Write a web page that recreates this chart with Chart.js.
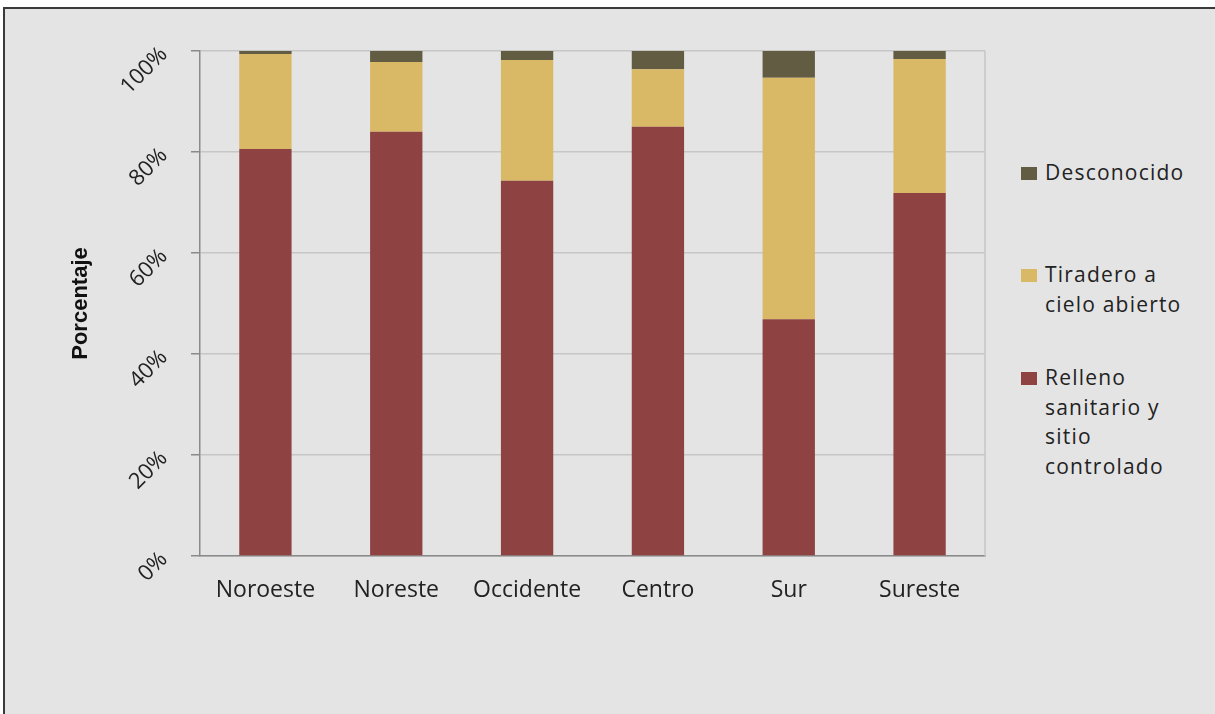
<!DOCTYPE html>
<html lang="es">
<head>
<meta charset="utf-8">
<title>Disposición final por región</title>
<script src="https://cdn.jsdelivr.net/npm/chart.js@4.4.1/dist/chart.umd.min.js"></script>
<style>
  html, body { margin: 0; padding: 0; background: #fff; overflow: hidden; }
  #frame {
    position: absolute; left: 3px; top: 7px; width: 1230px; height: 720px;
    background: #e4e4e4; border-top: 2px solid #3a3a3a; border-left: 2px solid #3a3a3a;
  }
  #wrap { position: absolute; left: 0; top: 0; width: 1000px; height: 714px; }
  #legend { position: absolute; left: 1021px; top: 0; font-family: "Open Sans", sans-serif; font-size: 21px; letter-spacing: 1.2px; color: #222; }
  .item { position: absolute; left: 0; display: flex; align-items: flex-start; line-height: 29.5px; white-space: nowrap; }
  .box { width: 16px; height: 13px; margin-top: 9px; margin-right: 8px; flex: none; }
</style>
</head>
<body>
<div id="frame"></div>
<div id="wrap"><canvas id="chart"></canvas></div>
<div id="legend"></div>
<script>
// Regiones y porcentajes por tipo de sitio de disposición
const regiones = ['Noroeste', 'Noreste', 'Occidente', 'Centro', 'Sur', 'Sureste'];
const relleno = [80.6, 84.0, 74.3, 85.0, 46.9, 71.9];
const tiradero = [18.8, 13.8, 23.9, 11.4, 47.8, 26.5];
const desconocido = [0.6, 2.2, 1.8, 3.6, 5.3, 1.6];
const ticksY = [0, 20, 40, 60, 80, 100];

const series = [
  { label: 'Relleno sanitario y sitio controlado', lines: ['Relleno', 'sanitario y', 'sitio', 'controlado'], data: relleno, color: '#8e4342' },
  { label: 'Tiradero a cielo abierto', lines: ['Tiradero a', 'cielo abierto'], data: tiradero, color: '#d9b866' },
  { label: 'Desconocido', lines: ['Desconocido'], data: desconocido, color: '#625c42' }
];

// borde derecho del área de trazado
const rightEdge = {
  id: 'rightEdge',
  beforeDatasetsDraw(chart) {
    const { ctx, chartArea: a } = chart;
    ctx.save();
    ctx.strokeStyle = '#c6c6c6';
    ctx.lineWidth = 1.5;
    ctx.beginPath();
    ctx.moveTo(a.right, a.top);
    ctx.lineTo(a.right, a.bottom);
    ctx.stroke();
    ctx.restore();
  }
};

const ctx = document.getElementById('chart');
new Chart(ctx, {
  type: 'bar',
  data: {
    labels: regiones,
    datasets: series.map(s => ({
      label: s.label,
      data: s.data,
      backgroundColor: s.color,
      borderWidth: 0,
      barPercentage: 0.4,
      categoryPercentage: 1
    }))
  },
  options: {
    responsive: true,
    maintainAspectRatio: false,
    animation: false,
    layout: { padding: { left: 68, top: 51, right: 15, bottom: 0 } },
    plugins: { legend: { display: false }, tooltip: { enabled: false } },
    scales: {
      x: {
        stacked: true,
        grid: { display: false, drawTicks: false },
        border: { display: true, color: '#8a8a8a', width: 1.5 },
        ticks: { color: '#222', padding: 21, font: { family: 'Open Sans', size: 23 }, maxRotation: 0 },
        afterFit(scale) { scale.height = 158; }
      },
      y: {
        stacked: true,
        min: 0,
        max: 100,
        afterBuildTicks(scale) { scale.ticks = ticksY.map(v => ({ value: v })); },
        grid: { color: '#c6c6c6', lineWidth: 1.5, tickColor: '#8a8a8a', tickLength: 9 },
        border: { color: '#8a8a8a', width: 1.5 },
        ticks: {
          color: '#222',
          padding: 27,
          minRotation: 45,
          maxRotation: 45,
          font: { family: 'Open Sans', size: 22 },
          callback: v => v + '%'
        },
        title: {
          display: true,
          text: 'Porcentaje',
          color: '#111',
          padding: 0,
          font: { family: 'Liberation Sans', size: 22, weight: 'bold' }
        },
        afterFit(scale) { scale.width = 132; }
      }
    }
  },
  plugins: [rightEdge]
});

// leyenda en orden inverso al apilado
const legend = document.getElementById('legend');
const tops = [158, 260, 363];
series.slice().reverse().forEach((s, i) => {
  const item = document.createElement('div');
  item.className = 'item';
  item.style.top = tops[i] + 'px';
  const box = document.createElement('span');
  box.className = 'box';
  box.style.background = s.color;
  const txt = document.createElement('span');
  txt.innerHTML = s.lines.join('<br>');
  item.appendChild(box);
  item.appendChild(txt);
  legend.appendChild(item);
});
</script>
</body>
</html>
